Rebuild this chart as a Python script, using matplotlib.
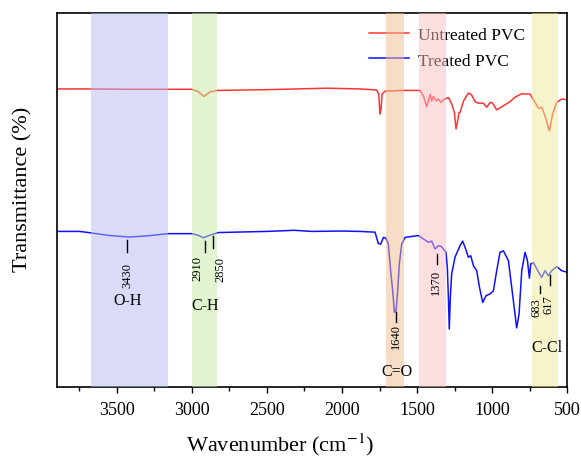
import numpy as np
import matplotlib
matplotlib.use("Agg")
import matplotlib.pyplot as plt

plt.rcParams["font.family"] = ["Liberation Serif", "DejaVu Serif"]
plt.rcParams["mathtext.fontset"] = "stix"

# untreated PVC spectrum (wavenumber, transmittance, arbitrary offset)
untreated_wn = [3900, 3700, 3400, 3000, 2960, 2920, 2880, 2830, 2500, 2200, 2100, 1880,
                1769, 1755, 1747, 1740, 1733, 1713, 1600, 1480, 1458, 1435, 1413, 1402,
                1391, 1373, 1358, 1340, 1325, 1291, 1269, 1251, 1240, 1231, 1220, 1213,
                1190, 1158, 1136, 1113, 1091, 1058, 1036, 1013, 996, 969, 924, 880, 847,
                802, 747, 713, 691, 669, 647, 618, 596, 569, 536, 500]
untreated_t = [79.7, 79.7, 79.6, 79.6, 79.0, 77.7, 78.9, 79.3, 79.5, 79.8, 79.9, 79.7,
               79.4, 78.3, 73.0, 74.3, 78.3, 79.1, 79.3, 79.3, 77.9, 74.9, 78.3, 76.5,
               77.7, 76.5, 77.0, 76.1, 76.8, 77.4, 75.7, 73.4, 69.0, 70.7, 73.4, 73.4,
               76.5, 78.6, 78.1, 76.3, 75.9, 75.9, 74.8, 76.1, 75.9, 74.1, 75.2, 76.3, 77.5,
               78.4, 78.3, 76.1, 74.5, 74.8, 72.5, 68.5, 73.0, 76.1, 77.0, 76.8]

# treated PVC spectrum
treated_wn = [3900, 3750, 3690, 3550, 3420, 3300, 3160, 3000, 2960, 2925, 2880, 2825,
              2500, 2320, 2200, 2000, 1880, 1780, 1758, 1742, 1724, 1707, 1691, 1676,
              1662, 1651, 1640, 1629, 1618, 1602, 1580, 1491, 1458, 1424, 1402, 1380,
              1358, 1336, 1307, 1298, 1291, 1285, 1278, 1269, 1247, 1213, 1196, 1180,
              1158, 1142, 1124, 1102, 1084, 1062, 1040, 1013, 991, 969, 947, 924, 891,
              869, 847, 836, 820, 802, 780, 764, 751, 742, 724, 702, 669, 647, 624, 602,
              569, 536, 500]
treated_t = [41.6, 41.6, 41.3, 40.5, 40.1, 40.4, 41.0, 41.0, 40.6, 39.9, 40.6, 41.3,
             41.6, 41.9, 41.6, 41.7, 41.6, 41.4, 38.4, 38.2, 40.0, 39.8, 38.2, 31.1,
             25.7, 20.0, 20.3, 25.7, 32.9, 38.2, 40.0, 40.5, 39.6, 38.7, 39.0, 36.9,
             37.8, 37.5, 36.0, 32.0, 24.0, 15.5, 24.0, 30.2, 34.7, 37.8, 39.0, 37.4,
             34.7, 35.1, 32.4, 31.1, 26.7, 22.6, 24.4, 24.9, 25.7, 31.1, 36.0, 36.4, 33.8,
             26.7, 19.5, 15.8, 19.5, 31.1, 36.0, 33.8, 29.1, 32.9, 33.3, 31.6, 29.3, 31.1,
             29.8, 31.1, 32.2, 31.1, 30.7]

# highlighted bands (from, to) and their colours
band_lo = [3670, 3000, 1710, 1485, 735]
band_hi = [3160, 2830, 1590, 1310, 560]
band_colors = ["#b5b9f5", "#c5eba1", "#f1bd8d", "#fbbdc3", "#edeb97"]

# peak labels: tick mark position and text position
peak_labels = ["3430", "2910", "2850", "1640", "1370", "683", "617"]
peak_wn = [3430, 2912, 2862, 1640, 1370, 683, 617]
label_wn = [3430, 2965, 2808, 1640, 1375, 705, 622]
tick_top = [39.4, 39.1, 40.4, 20.1, 35.6, 27.0, 29.9]
tick_bot = [36.1, 36.1, 37.2, 17.4, 32.9, 25.1, 27.3]
text_top = [33.4, 35.2, 35.0, 17.1, 31.5, 24.1, 24.9]

group_labels = ["O-H", "C-H", "C=O", "C-Cl"]
group_wn = [3430, 2913, 1635, 635]
group_y = [23.3, 22.0, 4.4, 10.7]

fig = plt.figure(figsize=(5.81, 4.64), dpi=100)
ax = fig.add_axes([0.098, 0.1638, 0.878, 0.806])

ax.plot(untreated_wn, untreated_t, color="#ff3333", lw=1.1, label="Untreated PVC", zorder=2)
ax.plot(treated_wn, treated_t, color="#1010ff", lw=1.1, label="Treated PVC", zorder=2)

for lo, hi, c in zip(band_lo, band_hi, band_colors):
    ax.axvspan(lo, hi, color=c, alpha=0.5, lw=0, zorder=3)

for w, t0, t1 in zip(peak_wn, tick_top, tick_bot):
    ax.plot([w, w], [t1, t0], color="black", lw=1.0, zorder=4)
for lab, w, tt in zip(peak_labels, label_wn, text_top):
    ax.text(w, tt, lab, rotation=90, ha="center", va="top", fontsize=9, zorder=4)

for lab, w, y in zip(group_labels, group_wn, group_y):
    ax.text(w, y, lab, ha="center", va="center", fontsize=11.5, zorder=4)

ax.set_xlim(3900, 500)
ax.set_ylim(0, 100)
ax.set_xticks([3500, 3000, 2500, 2000, 1500, 1000, 500])
ax.set_xticks(np.arange(3750, 500, -500), minor=True)
ax.set_yticks([])
ax.tick_params(axis="x", which="major", direction="out", length=4, width=1.0, labelsize=13, pad=6)
ax.tick_params(axis="x", which="minor", direction="out", length=3, width=1.0)
for s in ax.spines.values():
    s.set_linewidth(1.2)

ax.set_xlabel("Wavenumber (cm$^{-1}$)", fontsize=16)
ax.set_ylabel("Transmittance (%)", fontsize=16)
ax.xaxis.set_label_coords(0.437, -0.115)
ax.yaxis.set_label_coords(-0.047, 0.53)

leg = ax.legend(loc="upper left", bbox_to_anchor=(0.612, 0.962), frameon=False,
                fontsize=12.5, handlelength=2.3, handletextpad=0.5, labelspacing=0.52,
                borderpad=0, borderaxespad=0)
leg.set_zorder(1)

fig.savefig("out.png", dpi=100)
